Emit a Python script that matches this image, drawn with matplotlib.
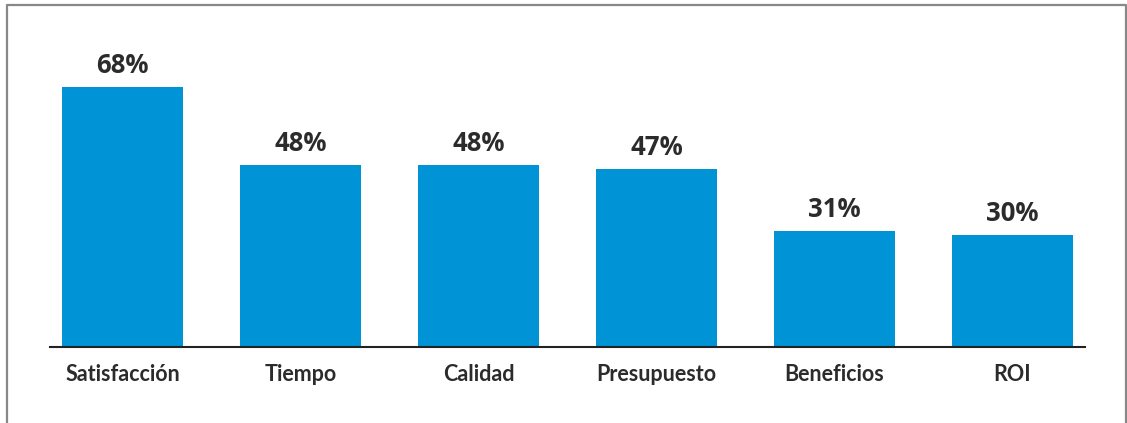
import matplotlib
matplotlib.use("Agg")
import matplotlib.pyplot as plt

# Datos
categorias = ["Satisfacción", "Tiempo", "Calidad", "Presupuesto", "Beneficios", "ROI"]
valores = [68, 48, 48, 47, 31, 30]
etiquetas = ["68%", "48%", "48%", "47%", "31%", "30%"]

AZUL = "#0093d6"
TEXTO = "#2b2b2b"

fig = plt.figure(figsize=(11.27, 4.23), dpi=100)
ax = fig.add_axes([50 / 1127, 1 - 347 / 423, 1035 / 1127, 307 / 423])

pos = list(range(len(categorias)))
ax.bar(pos, valores, width=0.68, color=AZUL)

for x, v, t in zip(pos, valores, etiquetas):
    ax.annotate(t, (x, v), xytext=(0, 10), textcoords="offset points",
                ha="center", va="baseline", fontsize=18.5, fontweight="bold",
                family=["Open Sans", "DejaVu Sans"], color=TEXTO)

ax.set_xlim(-0.407, 5.407)
ax.set_ylim(1.35, 80.0)
ax.set_xticks(pos)
ax.set_xticklabels(categorias, fontsize=15.5, fontweight="bold",
                   family=["Lato", "DejaVu Sans"], color=TEXTO)
ax.tick_params(axis="x", length=0, pad=12)
ax.set_yticks([])
for s in ["top", "left", "right"]:
    ax.spines[s].set_visible(False)
ax.spines["bottom"].set_color("#222222")
ax.spines["bottom"].set_linewidth(1.5)

# marco exterior (sin borde inferior)
fig.add_artist(plt.Line2D([7 / 1127, 7 / 1127, 1126 / 1127, 1126 / 1127],
                          [0, 1 - 5 / 423, 1 - 5 / 423, 0],
                          transform=fig.transFigure, color="#888888", lw=1.6))

fig.savefig("out.png", dpi=100)
